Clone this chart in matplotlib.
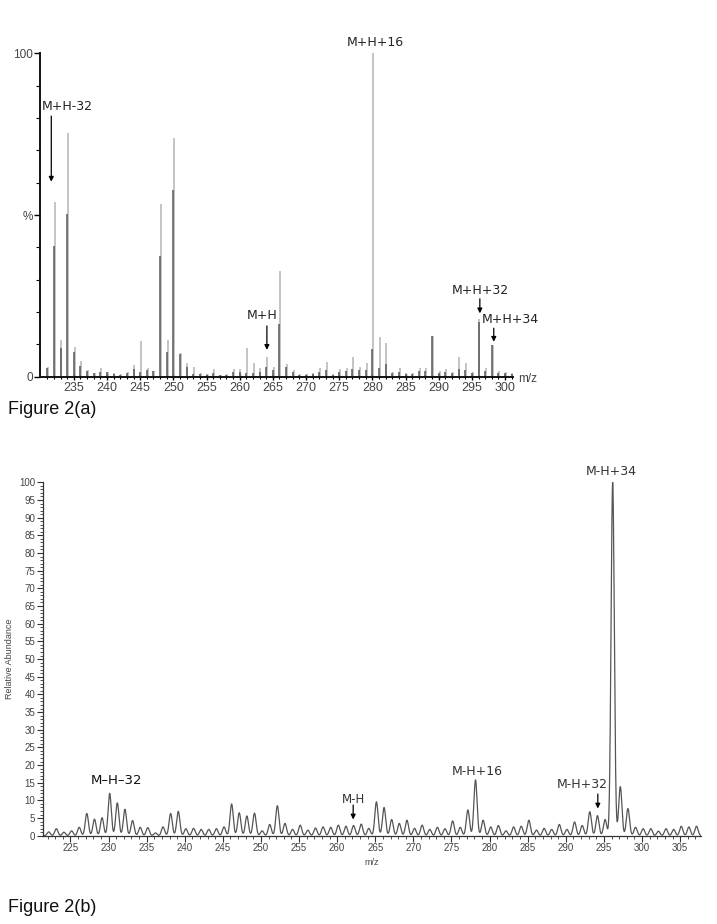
import numpy as np
import matplotlib
matplotlib.use("Agg")
import matplotlib.pyplot as plt
from matplotlib.ticker import FixedLocator, MultipleLocator

# ---------------- Data: Figure 2(a) (stick spectrum) ----------------
top_mz = [231, 232, 233, 234, 235, 236, 237, 238, 239, 240, 241, 242, 243, 244,
          245, 246, 247, 248, 249, 250, 251, 252, 253, 254, 255, 256, 257, 258,
          259, 260, 261, 262, 263, 264, 265, 266, 267, 268, 269, 270, 271, 272,
          273, 274, 275, 276, 277, 278, 279, 280, 281, 282, 283, 284, 285, 286,
          287, 288, 289, 290, 291, 292, 293, 294, 295, 296, 297, 298, 299, 300, 301]
top_light = [3.1, 54.0, 11.3, 75.4, 9.3, 5.0, 2.1, 1.2, 2.7, 1.6, 1.0, 0.7, 1.4, 3.6,
             11.1, 2.8, 1.9, 53.4, 11.3, 73.9, 7.4, 4.3, 2.9, 1.2, 0.7, 2.4, 0.6, 0.7,
             2.3, 2.3, 9.0, 4.3, 2.6, 6.2, 3.1, 32.8, 3.8, 2.1, 0.8, 0.8, 1.0, 2.8,
             4.4, 0.8, 2.4, 2.8, 6.2, 3.1, 4.1, 100.0, 12.4, 10.5, 1.5, 2.6, 1.0, 1.0,
             2.6, 2.6, 12.6, 1.8, 2.4, 1.5, 6.2, 4.1, 1.5, 18.0, 2.6, 9.8, 1.8, 1.5, 1.0]
top_dark = [2.6, 40.4, 8.8, 50.4, 7.7, 3.3, 1.8, 1.0, 1.5, 1.4, 0.8, 0.6, 1.0, 2.3,
            1.5, 2.0, 1.9, 37.4, 7.7, 57.7, 7.0, 3.1, 0.8, 0.9, 0.6, 1.0, 0.5, 0.6,
            1.5, 1.5, 1.0, 1.0, 1.5, 3.1, 2.0, 16.3, 3.0, 1.5, 0.6, 0.6, 0.8, 1.5,
            2.0, 0.6, 1.5, 1.8, 2.5, 2.0, 2.0, 8.5, 2.8, 3.8, 1.0, 1.5, 0.8, 0.8,
            1.8, 1.8, 12.6, 1.2, 1.5, 1.0, 2.5, 2.0, 1.0, 17.0, 1.8, 9.8, 1.2, 1.0, 0.8]

top_labels = ["M+H-32", "M+H", "M+H+16", "M+H+32", "M+H+34"]

# ---------------- Data: Figure 2(b) (profile spectrum) ----------------
bot_mz = list(range(222, 308))
bot_int = [1.1, 2.0, 1.0, 1.4, 2.4, 6.3, 4.7, 5.1, 12.0, 9.3, 7.5, 4.3, 2.4, 2.3,
           0.8, 2.5, 6.3, 6.9, 2.0, 2.1, 1.8, 1.8, 2.0, 2.5, 9.0, 6.5, 5.6, 6.4,
           1.4, 3.2, 8.5, 3.5, 1.8, 3.0, 1.6, 2.2, 2.5, 2.4, 3.0, 2.7, 2.9, 3.3,
           2.1, 9.6, 8.0, 4.6, 3.5, 4.4, 2.1, 3.0, 1.8, 2.4, 2.0, 4.2, 2.4, 7.3,
           15.8, 4.4, 2.5, 2.9, 1.4, 2.5, 2.7, 4.4, 1.6, 2.1, 1.8, 3.2, 1.8, 3.9,
           2.9, 6.8, 5.7, 4.6, 100.0, 13.9, 7.7, 2.4, 2.0, 2.0, 1.3, 2.0, 1.8, 2.7,
           2.5, 2.7]
bot_labels = ["M\u2013H\u201332", "M-H", "M-H+16", "M-H+32", "M-H+34"]

# ---------------- Figure ----------------
fig = plt.figure(figsize=(7.17, 9.24), dpi=100)
tickfont = "Liberation Sans"

# ===== Panel (a) =====
ax1 = fig.add_axes([0.0558, 0.5923, 0.6597, 0.35])
mz_a = np.array(top_mz, dtype=float)
ax1.vlines(mz_a + 0.12, 0, top_light, color="#b4b4b4", lw=1.1)
ax1.vlines(mz_a, 0, top_dark, color="#585858", lw=1.1)
ax1.set_xlim(229.9, 301.2)
ax1.set_ylim(0, 100)
for s in ("top", "right"):
    ax1.spines[s].set_visible(False)
for s in ("left", "bottom"):
    ax1.spines[s].set_linewidth(1.4)
    ax1.spines[s].set_color("#111111")
ax1.set_xticks(list(range(235, 301, 5)))
ax1.xaxis.set_minor_locator(FixedLocator(list(range(231, 302))))
ax1.set_yticks([0, 50, 100])
ax1.set_yticklabels(["0", "%", "100"])
ax1.yaxis.set_minor_locator(MultipleLocator(10))
ax1.tick_params(axis="x", which="major", length=4, width=1.0, direction="inout",
                labelsize=9, labelcolor="#444444", pad=2)
ax1.tick_params(axis="x", which="minor", length=3, width=0.8, direction="inout")
ax1.tick_params(axis="y", which="major", length=4, width=1.0, labelsize=8.5,
                labelcolor="#444444", pad=1)
ax1.tick_params(axis="y", which="minor", length=3, width=0.8)
for lab in ax1.get_xticklabels() + ax1.get_yticklabels():
    lab.set_fontfamily(tickfont)
fig.text(528 / 717, 1 - 379 / 924, "m/z", fontsize=8.5, color="#444444",
         family=tickfont, ha="center", va="center")

arrow_kw = dict(arrowstyle="-|>", lw=0.9, color="black", mutation_scale=7,
                shrinkA=0, shrinkB=0)
# M+H-32
ax1.text(231.6 + 2.4, 83.5, top_labels[0], fontsize=9, ha="center", va="center",
         color="#222222")
ax1.annotate("", xy=(231.6, 60.3), xytext=(231.6, 80.6), arrowprops=arrow_kw)
# M+H
ax1.text(263.4, 18.9, top_labels[1], fontsize=9, ha="center", va="center",
         color="#222222")
ax1.annotate("", xy=(264.1, 8.3), xytext=(264.1, 15.7), arrowprops=arrow_kw)
# M+H+16
ax1.text(280.4, 103.3, top_labels[2], fontsize=9, ha="center", va="center",
         color="#222222", clip_on=False)
# M+H+32
ax1.text(296.2, 26.8, top_labels[3], fontsize=9, ha="center", va="center",
         color="#222222")
ax1.annotate("", xy=(296.2, 19.6), xytext=(296.2, 24.1), arrowprops=arrow_kw)
# M+H+34
ax1.text(300.8, 17.7, top_labels[4], fontsize=9, ha="center", va="center",
         color="#222222", clip_on=False)
ax1.annotate("", xy=(298.3, 10.8), xytext=(298.3, 15.0), arrowprops=arrow_kw)

fig.text(8 / 717, 1 - 410 / 924, "Figure 2(a)", fontsize=13, family=tickfont,
         ha="left", va="center", color="#111111")

# ===== Panel (b) =====
ax2 = fig.add_axes([0.05997, 0.0955, 0.9173, 0.3825])
xlo, xhi = 221.4, 307.7
xs = np.linspace(xlo, xhi, 6000)
sig = 0.21
prof = np.zeros_like(xs)
for m, h in zip(bot_mz, bot_int):
    prof += h * np.exp(-0.5 * ((xs - (m + 0.15)) / sig) ** 2)
ax2.plot(xs, prof, color="#555555", lw=0.9)
ax2.set_xlim(xlo, xhi)
ax2.set_ylim(0, 100)
for s in ("top", "right"):
    ax2.spines[s].set_visible(False)
for s in ("left", "bottom"):
    ax2.spines[s].set_linewidth(0.9)
    ax2.spines[s].set_color("#333333")
ax2.set_xticks(list(range(225, 306, 5)))
ax2.xaxis.set_minor_locator(MultipleLocator(1))
ax2.set_yticks(list(range(0, 101, 5)))
ax2.yaxis.set_minor_locator(MultipleLocator(1))
ax2.tick_params(axis="both", which="major", length=4, width=0.8, labelsize=7,
                labelcolor="#444444", color="#333333", pad=1.5)
ax2.tick_params(axis="both", which="minor", length=2.5, width=0.6, color="#333333")
for lab in ax2.get_xticklabels() + ax2.get_yticklabels():
    lab.set_fontfamily(tickfont)
ax2.set_xlabel("m/z", fontsize=6.5, color="#444444", family=tickfont, labelpad=3)
ax2.set_ylabel("Relative Abundance", fontsize=6.5, color="#444444",
               family=tickfont, labelpad=4)

# annotations
ax2.text(231.1, 15.5, bot_labels[0], fontsize=9.5, ha="center", va="center",
         color="#111111")
ax2.text(262.1, 10.3, bot_labels[1], fontsize=8.5, ha="center", va="center",
         color="#333333")
ax2.annotate("", xy=(262.1, 4.6), xytext=(262.1, 8.7), arrowprops=arrow_kw)
ax2.text(278.4, 18.3, bot_labels[2], fontsize=9, ha="center", va="center",
         color="#333333")
ax2.text(292.2, 14.4, bot_labels[3], fontsize=9, ha="center", va="center",
         color="#333333")
ax2.annotate("", xy=(294.2, 7.7), xytext=(294.2, 11.8), arrowprops=arrow_kw)
ax2.text(296.0, 103.0, bot_labels[4], fontsize=9, ha="center", va="center",
         color="#333333", clip_on=False)

fig.text(8 / 717, 1 - 907 / 924, "Figure 2(b)", fontsize=13, family=tickfont,
         ha="left", va="center", color="#111111")

fig.savefig("out.png", dpi=100, facecolor="white")
